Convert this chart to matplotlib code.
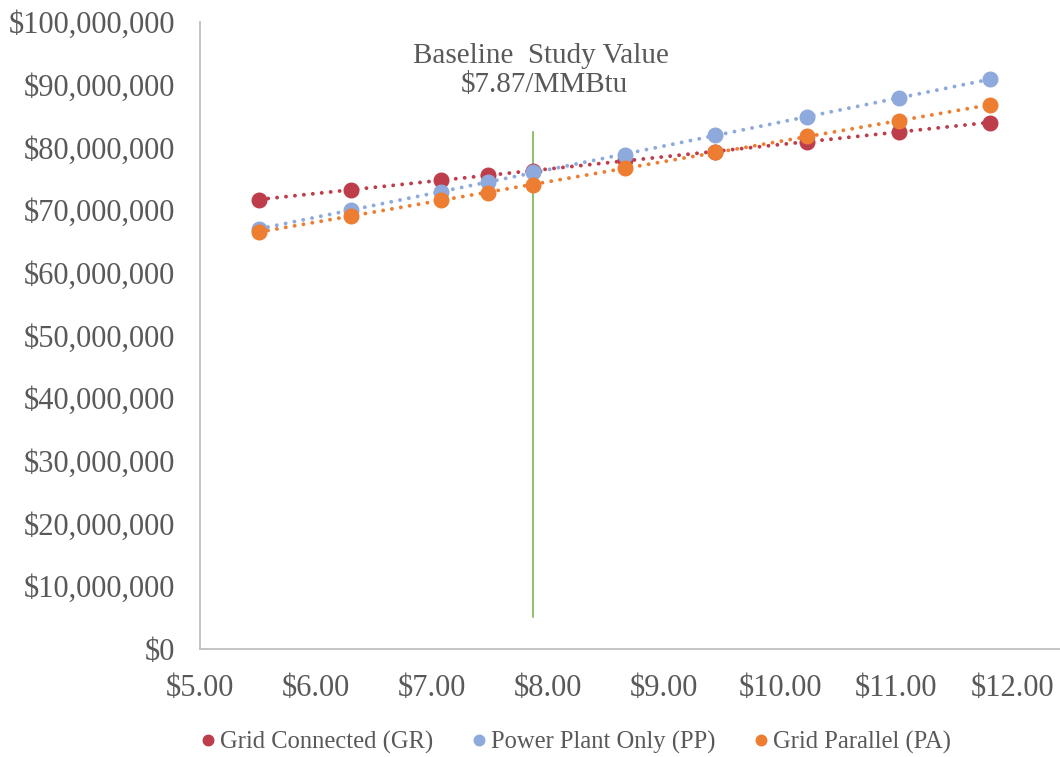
import numpy as np
import matplotlib
matplotlib.use("Agg")
import matplotlib.pyplot as plt
from matplotlib.ticker import FuncFormatter, MultipleLocator

# Data
gas_price = [5.51, 6.30, 7.08, 7.48, 7.87, 8.66, 9.44, 10.23, 11.02, 11.81]
grid_connected = [71.6, 73.2, 74.8, 75.6, 76.3, 78.0, 79.3, 80.9, 82.5, 83.9]
power_plant_only = [67.0, 70.0, 72.9, 74.5, 76.1, 78.8, 82.0, 84.8, 87.9, 90.9]
grid_parallel = [66.5, 69.1, 71.6, 72.8, 74.0, 76.7, 79.2, 81.8, 84.2, 86.8]
series_names = ["Grid Connected (GR)", "Power Plant Only (PP)", "Grid Parallel (PA)"]
series_colors = ["#BE3D4A", "#8EA9DB", "#ED7D31"]
baseline_value = 7.87
baseline_span = [5.1, 82.5]
annotation_lines = ["Baseline  Study Value", "$7.87/MMBtu"]

plt.rcParams['font.family'] = ['Liberation Serif', 'DejaVu Serif']
text_color = "#595959"

fig = plt.figure(figsize=(10.6, 7.57), dpi=100)
ax = fig.add_axes([200/1060, 1-649/757, 860/1060, (649-22)/757])

x = np.array(gas_price)
for vals, name, col in zip([grid_connected, power_plant_only, grid_parallel], series_names, series_colors):
    y = np.array(vals) * 1e6
    ax.plot(x, y, 'o', color=col, markersize=10.5, label=name, zorder=3)
    k, b = np.polyfit(x, y, 1)
    xs = np.array([x[0], x[-1]])
    ax.plot(xs, k*xs + b, linestyle=(0, (0.01, 2.3)), color=col, lw=2.8,
            dash_capstyle='round', zorder=2)

ax.plot([baseline_value, baseline_value], [baseline_span[0]*1e6, baseline_span[1]*1e6],
        color="#70AD47", lw=1.1, zorder=1)

ax.text(7.94, 93.5e6, annotation_lines[0], ha='center', va='baseline', fontsize=21,
        color=text_color)
ax.text(7.97, 88.8e6, annotation_lines[1], ha='center', va='baseline', fontsize=21,
        color=text_color)

ax.set_xlim(5, 12.41)
ax.set_ylim(0, 100e6)
ax.xaxis.set_major_locator(MultipleLocator(1))
ax.yaxis.set_major_locator(MultipleLocator(10e6))
ax.xaxis.set_major_formatter(FuncFormatter(lambda v, p: f"${v:.2f}"))
ax.yaxis.set_major_formatter(FuncFormatter(lambda v, p: f"${v:,.0f}"))
ax.tick_params(axis='both', length=0, labelsize=22, labelcolor=text_color)
ax.tick_params(axis='x', pad=18)
ax.tick_params(axis='y', pad=18)
for s in ['top', 'right']:
    ax.spines[s].set_visible(False)
for s in ['left', 'bottom']:
    ax.spines[s].set_color("#BFBFBF")
    ax.spines[s].set_linewidth(1.3)

handles, labels = ax.get_legend_handles_labels()
leg = fig.legend(handles, labels, loc='center', bbox_to_anchor=(0.541, 1-742/757),
                 ncol=3, frameon=False, fontsize=17.7, markerscale=0.72,
                 handletextpad=0.0, columnspacing=1.35, handlelength=1.0)
for t in leg.get_texts():
    t.set_color(text_color)

fig.savefig("out.png", dpi=100)
